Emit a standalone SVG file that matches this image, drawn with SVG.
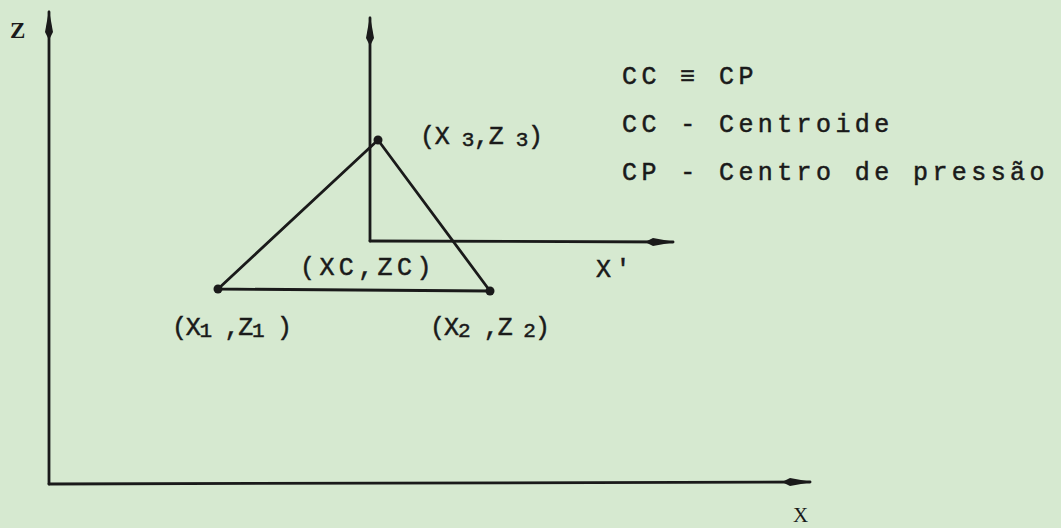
<svg xmlns="http://www.w3.org/2000/svg" width="1061" height="528" viewBox="0 0 1061 528">
<style>
.ln{stroke:#1a1a1a;stroke-width:2.8;fill:none;stroke-linecap:round;stroke-linejoin:round}
.t{font-family:"Liberation Mono","DejaVu Sans Mono",monospace;font-size:25px;fill:#1a1a1a;stroke:#1a1a1a;stroke-width:0.5;letter-spacing:4.4px}
.p{letter-spacing:0}
.s{font-size:21px}
.ax{font-family:"Liberation Serif",serif;font-size:23px;font-weight:bold;fill:#1a1a1a}
.dot{fill:#1a1a1a}
</style>
<defs>
<marker id="ah" viewBox="0 0 30 10" refX="28" refY="5" markerWidth="30" markerHeight="10" markerUnits="userSpaceOnUse" orient="auto">
<path d="M0,5 L8,1 L30,5 L8,9 Z" fill="#1a1a1a"/>
</marker>
</defs>
<rect width="1061" height="528" fill="#d6e9d0"/>
<g id="connectors">
<path class="ln" d="M49,484 L49,12" marker-end="url(#ah)"/>
<path class="ln" d="M49,484 L810,482" marker-end="url(#ah)"/>
<path class="ln" d="M370,241 L370,18" marker-end="url(#ah)"/>
<path class="ln" d="M370,241 L673,242" marker-end="url(#ah)"/>
<path class="ln" d="M218,289 L378,140 L490,291 Z"/>
</g>
<g id="axis-labels">
<text class="ax" x="10" y="38">Z</text>
<text class="ax" x="793" y="522" style="font-weight:normal;font-size:21px">X</text>
<text class="t" x="596" y="277">X'</text>
</g>
<g id="p1">
<circle class="dot" cx="218" cy="289" r="4.5"/>
<text class="t p" x="172" y="335" textLength="120" lengthAdjust="spacing">(X<tspan class="s" dy="2">1</tspan><tspan dy="-2"> ,</tspan>Z<tspan class="s" dy="2">1</tspan><tspan dy="-2"> )</tspan></text>
</g>
<g id="p2">
<circle class="dot" cx="490" cy="291" r="4.5"/>
<text class="t p" x="430" y="335" textLength="120" lengthAdjust="spacing">(X<tspan class="s" dy="2">2</tspan><tspan dy="-2"> ,</tspan>Z<tspan class="s" dy="2"> 2</tspan><tspan dy="-2">)</tspan></text>
</g>
<g id="p3">
<circle class="dot" cx="378" cy="140" r="4.5"/>
<text class="t p" x="420" y="144" textLength="123" lengthAdjust="spacing">(X<tspan class="s" dy="2"> 3</tspan><tspan dy="-2">,</tspan>Z<tspan class="s" dy="2"> 3</tspan><tspan dy="-2">)</tspan></text>
</g>
<g id="pc">
<text class="t" x="300" y="275">(XC,ZC)</text>
</g>
<g id="legend">
<text class="t" x="622" y="84">CC ≡ CP</text>
<text class="t" x="622" y="132">CC - Centroide</text>
<text class="t" x="622" y="180">CP - Centro de pressão</text>
</g>
</svg>
